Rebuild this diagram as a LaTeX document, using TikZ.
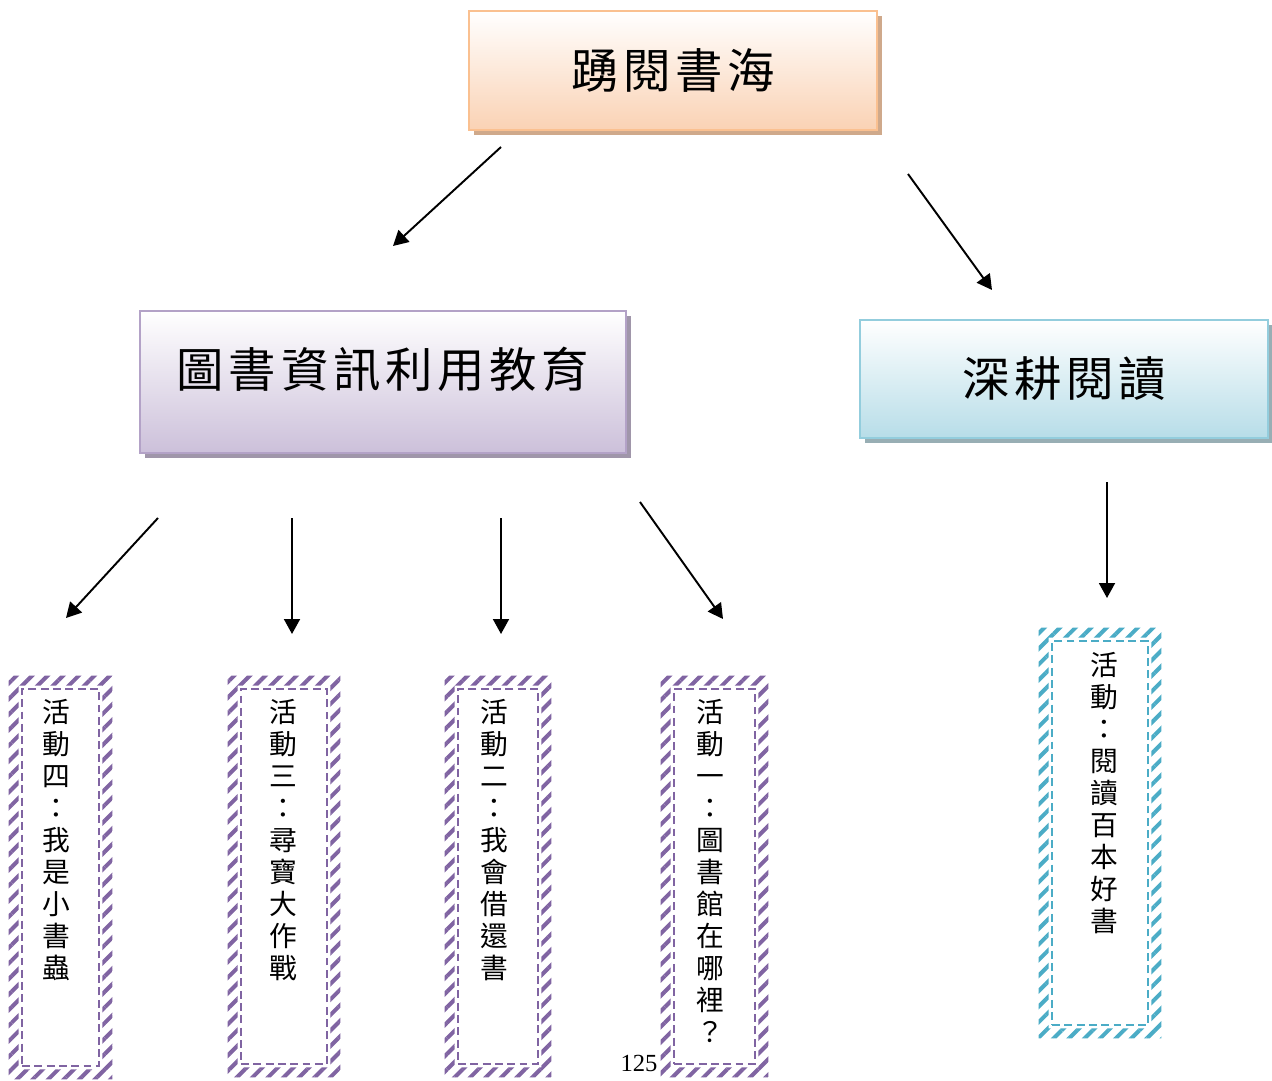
\documentclass[tikz,border=0pt]{standalone}
\usepackage{fontspec}
\setmainfont{Liberation Serif}
\newfontfamily\kai{Noto Sans CJK TC}
\newfontfamily\kaiwide[LetterSpace=10]{Noto Sans CJK TC}
\usetikzlibrary{positioning, arrows.meta, shadows, patterns.meta}
\definecolor{peachline}{HTML}{FAC090}
\definecolor{peachfill}{HTML}{FAD2B4}
\definecolor{peachshadow}{HTML}{CFA98B}
\definecolor{lilacline}{HTML}{B3A2C7}
\definecolor{lilacfill}{HTML}{CCC0DA}
\definecolor{lilacshadow}{HTML}{A096AA}
\definecolor{aqualine}{HTML}{93CDDD}
\definecolor{aquafill}{HTML}{B7DDE8}
\definecolor{aquashadow}{HTML}{98AEB4}
\definecolor{actpurple}{HTML}{8064A2}
\definecolor{actcyan}{HTML}{4BACC6}
\tikzset{
    flow/.style={-{Triangle[length=0.3cm,width=0.32cm]}, line width=1.1pt},  % the floating arrows
    topicbox/.style n args={3}{draw=#1, line width=1.2pt, top color=white, bottom color=#2,
        drop shadow={fill=#3, opacity=1, shadow xshift=0.1cm, shadow yshift=-0.1cm},
        font=\kaiwide\fontsize{27}{30}\selectfont, inner sep=0pt},
    actframe/.style={draw=#1, line width=1pt, dash pattern=on 4.5pt off 2.5pt, inner sep=0pt},
    acttext/.style={font=\kai\fontsize{15.8}{18.2}\selectfont, align=center, inner sep=0pt},
}

\begin{document}
\begin{tikzpicture}[x=0.02cm, y=-0.02cm]
\useasboundingbox (0,0) rectangle (1272,1081);

\node[topicbox={peachline}{peachfill}{peachshadow}, minimum width=8.16cm, minimum height=2.38cm] (sea) at (673,70.5) {踴閱書海};
\node[topicbox={lilacline}{lilacfill}{lilacshadow}, minimum width=9.72cm, minimum height=2.84cm, text depth=17pt] (edu) at (383,382) {圖書資訊利用教育};
\node[topicbox={aqualine}{aquafill}{aquashadow}, minimum width=8.16cm, minimum height=2.36cm] (deep) at (1064,379) {深耕閱讀};

% activity frames
\node[actframe=actpurple, minimum width=1.54cm, minimum height=7.54cm] (f4) at (60.5,877.5) {};
\node[actframe=actpurple, minimum width=1.72cm, minimum height=7.50cm] (f3) at (284,876.5) {};
\node[actframe=actpurple, minimum width=1.60cm, minimum height=7.50cm] (f2) at (498,876.5) {};
\node[actframe=actpurple, minimum width=1.62cm, minimum height=7.50cm] (f1) at (714.5,876.5) {};
\node[actframe=actcyan, minimum width=1.92cm, minimum height=7.68cm] (f5) at (1100,833) {};

\foreach \f/\c in {f4/actpurple, f3/actpurple, f2/actpurple, f1/actpurple, f5/actcyan}
    \fill[pattern={Lines[angle=45, distance=0.22cm, line width=0.08cm]}, pattern color=\c, even odd rule]
        ([shift={(-0.25cm,0.25cm)}]\f.north west) rectangle ([shift={(0.25cm,-0.25cm)}]\f.south east)
        ([shift={(-0.05cm,0.05cm)}]\f.north west) rectangle ([shift={(0.05cm,-0.05cm)}]\f.south east);

\node[acttext, below=0.22cm of f4.north, xshift=-0.09cm] (t4) {活\\動\\四\\：\\我\\是\\小\\書\\蟲};
\node[acttext, below=0.22cm of f3.north, xshift=-0.02cm] (t3) {活\\動\\三\\：\\尋\\寶\\大\\作\\戰};
\node[acttext, below=0.22cm of f2.north, xshift=-0.08cm] (t2) {活\\動\\二\\：\\我\\會\\借\\還\\書};
\node[acttext, below=0.22cm of f1.north, xshift=-0.09cm] (t1) {活\\動\\一\\：\\圖\\書\\館\\在\\哪\\裡\\？};
\node[acttext, below=0.24cm of f5.north, xshift=0.08cm] (t5) {活\\動\\：\\閱\\讀\\百\\本\\好\\書};

\node[font=\fontsize{14}{16}\selectfont, inner sep=0pt] (pageno) at (639,1063) {125};

% arrows
\coordinate (a1s) at (501,147);  \coordinate (a1e) at (393,246);
\coordinate (a2s) at (908,174);  \coordinate (a2e) at (992,290);
\coordinate (a3s) at (158,518);  \coordinate (a3e) at (66,618);
\coordinate (a4s) at (292,518);  \coordinate (a4e) at (292,634);
\coordinate (a5s) at (501,518);  \coordinate (a5e) at (501,634);
\coordinate (a6s) at (640,502);  \coordinate (a6e) at (723,619);
\coordinate (a7s) at (1107,482); \coordinate (a7e) at (1107,598);

\draw[flow] (a1s) -- (a1e);
\draw[flow] (a2s) -- (a2e);
\draw[flow] (a3s) -- (a3e);
\draw[flow] (a4s) -- (a4e);
\draw[flow] (a5s) -- (a5e);
\draw[flow] (a6s) -- (a6e);
\draw[flow] (a7s) -- (a7e);

\end{tikzpicture}
\end{document}
